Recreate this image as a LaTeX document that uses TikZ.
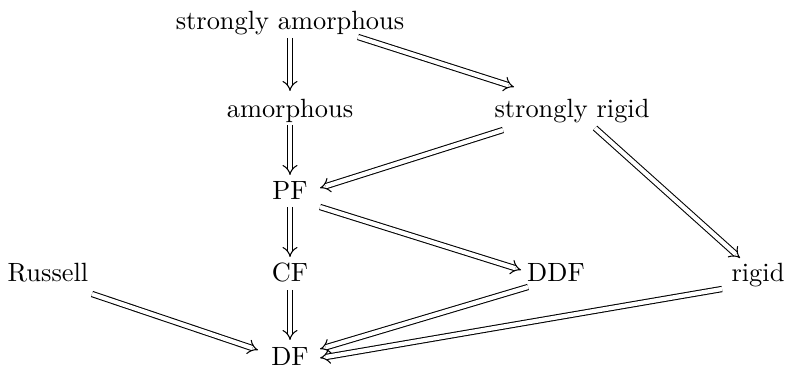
\documentclass[tikz,border=0pt]{standalone}
\usetikzlibrary{arrows.meta}
\begin{document}
\begin{tikzpicture}[x=0.379pt,y=-0.379pt,
  lbl/.style={inner sep=3pt,text height=2.1ex,text depth=0.5ex},
  imp/.style={double,double distance=1.6pt,line width=0.4pt,-{Implies}}]
\useasboundingbox (0,0) rectangle (790,392);
\node[lbl] (sa) at (290,20) {strongly amorphous};
\node[lbl] (am) at (290,108) {amorphous};
\node[lbl] (sr) at (572,108) {strongly rigid};
\node[lbl] (pf) at (290,190) {PF};
\node[lbl] (ru) at (48,272) {Russell};
\node[lbl] (cf) at (290,272) {CF};
\node[lbl] (ddf) at (556,272) {DDF};
\node[lbl] (ri) at (758,272) {rigid};
\node[lbl] (df) at (290,356) {DF};
\draw[imp] ([shift={(0,18)}]sa.center) -- ([shift={(0,-17)}]am.center);
\draw[imp] ([shift={(68,17)}]sa.center) -- ([shift={(-58,-21)}]sr.center);
\draw[imp] ([shift={(0,17)}]am.center) -- ([shift={(0,-15)}]pf.center);
\draw[imp] ([shift={(-69,22)}]sr.center) -- ([shift={(30,-2)}]pf.center);
\draw[imp] ([shift={(23,20)}]sr.center) -- ([shift={(-18,-14)}]ri.center);
\draw[imp] ([shift={(0,17)}]pf.center) -- ([shift={(0,-15)}]cf.center);
\draw[imp] ([shift={(30,17)}]pf.center) -- ([shift={(-35,-2)}]ddf.center);
\draw[imp] ([shift={(0,18)}]cf.center) -- ([shift={(0,-16)}]df.center);
\draw[imp] ([shift={(44,22)}]ru.center) -- ([shift={(-32,-6)}]df.center);
\draw[imp] ([shift={(-28,15)}]ddf.center) -- ([shift={(30,-7)}]df.center);
\draw[imp] ([shift={(-36,17)}]ri.center) -- ([shift={(30,2)}]df.center);
\end{tikzpicture}
\end{document}
